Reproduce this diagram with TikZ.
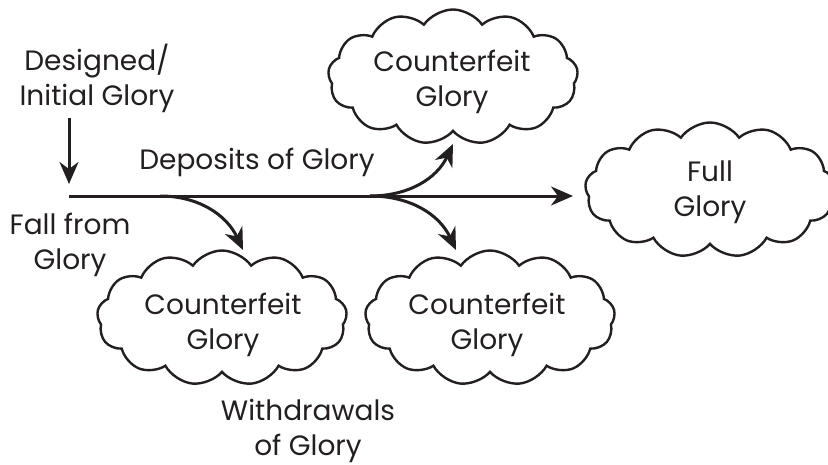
\documentclass[tikz,border=0pt]{standalone}
\usepackage{fontspec}
\setmainfont{Poppins}
\usetikzlibrary{shapes.symbols,arrows.meta}
\definecolor{ink}{HTML}{231F20}
\begin{document}
\begin{tikzpicture}[x=1pt,y=-1pt,
  lbl/.style={text=ink,align=center,font=\fontsize{28}{35}\selectfont,inner sep=0pt},
  puff/.style={cloud,cloud puffs=13,cloud puff arc=110,cloud ignores aspect,draw=ink,line width=2.4pt,
    minimum width=250pt,minimum height=135pt,inner sep=0pt},
  flow/.style={draw=ink,line width=3pt,-{Stealth[length=22pt,width=19pt,inset=7pt]}}]
\useasboundingbox (0,0) rectangle (828,464);
% clouds
\node[puff] (cTop) at (453,77) {};
\node[puff] (cFull) at (710,190) {};
\node[puff] (cLeft) at (222,318) {};
\node[puff] (cRight) at (490,318) {};
% cloud texts
\node[lbl] (tTop) at (452,82) {Counterfeit\\Glory};
\node[lbl] (tFull) at (710,192) {Full\\Glory};
\node[lbl] (tLeft) at (223,325) {Counterfeit\\Glory};
\node[lbl] (tRight) at (487,325) {Counterfeit\\Glory};
% labels
\node[lbl] (tDesign) at (97,78) {Designed/\\Initial Glory};
\node[lbl] (tFall) at (70,245) {Fall from\\Glory};
\node[lbl] (tDep) at (257,162) {Deposits of Glory};
\node[lbl] (tWith) at (308,431) {Withdrawals\\of Glory};
% coordinates
\coordinate (dTop) at (69,118);
\coordinate (dTip) at (69,184);
\coordinate (s0) at (69,196);
\coordinate (b1) at (160,196);
\coordinate (b2) at (370,196);
\coordinate (eMain) at (573,196);
\coordinate (eLeft) at (243,250);
\coordinate (eUp) at (453,144);
\coordinate (eDown) at (456,250);
% connectors
\draw[flow] (dTop) -- (dTip);
\draw[flow] (s0) -- (eMain);
\draw[flow] (b1) to[out=0,in=115] (eLeft);
\draw[flow] (b2) to[out=0,in=-115] (eUp);
\draw[flow] (b2) to[out=0,in=115] (eDown);
\end{tikzpicture}
\end{document}
